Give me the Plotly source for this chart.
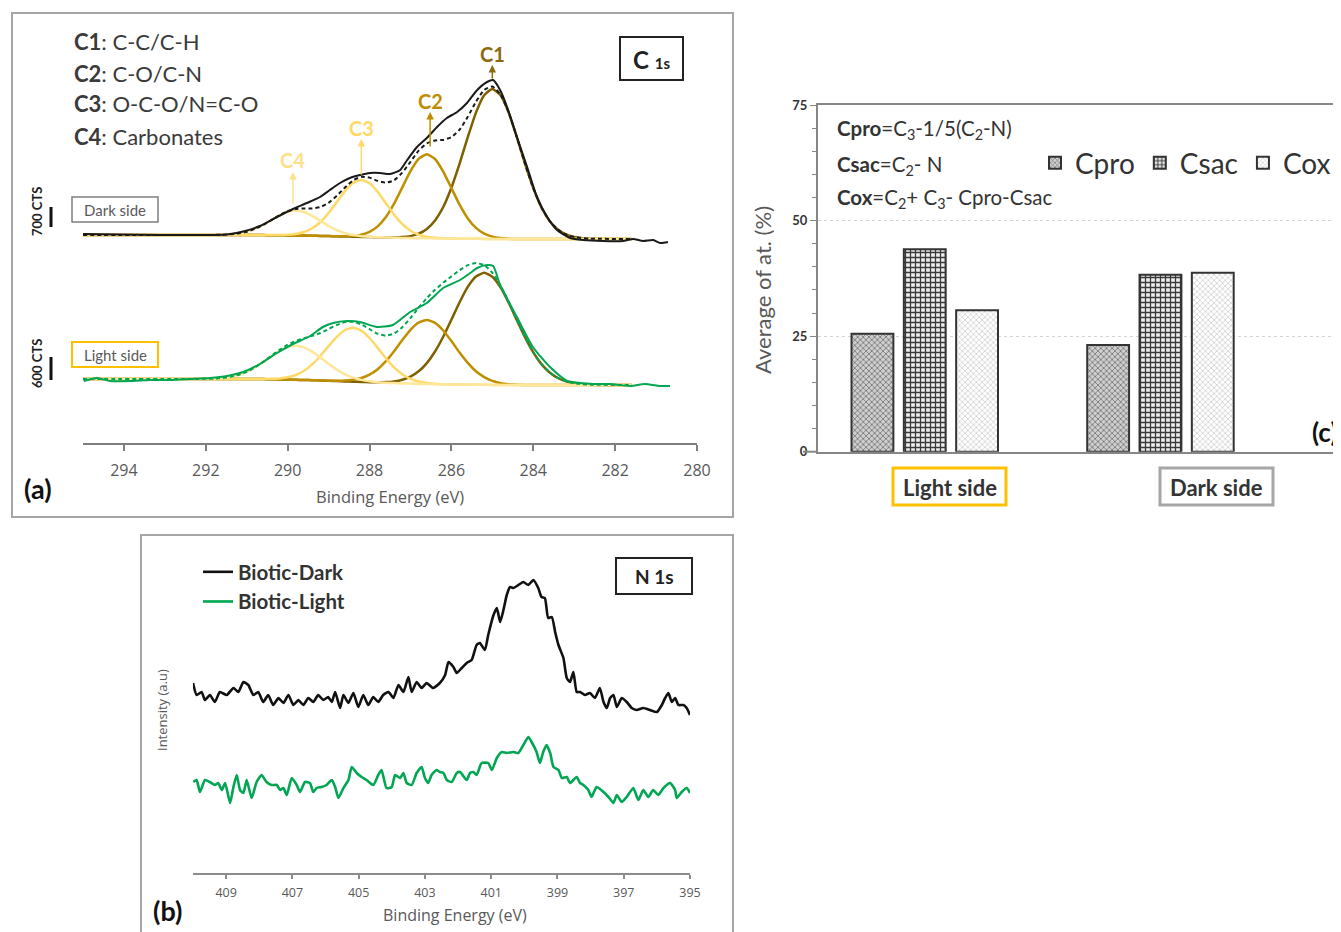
import plotly.graph_objects as go

W, H = 1341, 932
OFF = 8  # page body margin in the browser


def px(x):
    return (x - OFF) / W


def py(y):
    return 1 - (y - OFF) / H


# ======================= (a) C 1s =======================
c1s_fit_energy = [295.0,
                  292.6, 292.4, 292.2, 292.0, 291.8, 291.6, 291.4, 291.2, 291.0, 290.8,
                  290.6, 290.4, 290.2, 290.0, 289.8, 289.6, 289.4, 289.2, 289.0, 288.8,
                  288.6, 288.4, 288.2, 288.0, 287.8, 287.6, 287.4, 287.2, 287.0, 286.8,
                  286.6, 286.4, 286.2, 286.0, 285.8, 285.6, 285.4, 285.2, 285.0, 284.8,
                  284.6, 284.4, 284.2, 284.0, 283.8, 283.6, 283.4, 283.2, 283.0, 282.8, 282.6,
                  281.6]

dark_bg = [208.0,
           208.0, 208.0, 208.0, 208.0, 208.0, 208.0, 208.0, 208.0, 208.0, 208.0,
           207.9, 207.8, 207.7, 207.6, 207.5, 207.4, 207.3, 207.1, 206.9, 206.7,
           206.5, 206.3, 206.1, 205.9, 205.7, 205.5, 205.3, 205.1, 204.9, 204.8,
           204.7, 204.6, 204.5, 204.4, 204.3, 204.2, 204.2, 204.1, 204.1, 204.0,
           204.0, 204.0, 204.0, 204.0, 204.0, 204.0, 204.0, 204.0, 204.0, 204.0, 204.0,
           204.0]
dark_c1 = [0,
           0, 0, 0, 0, 0, 0, 0, 0, 0, 0,
           0, 0, 0, 0, 0, 0, 0, 0, 0, 0,
           0, 0, 0, 0, 0, 0.1, 0.3, 0.8, 2.0, 4.5,
           9.4, 18.0, 31.5, 50.9, 75.0, 101.6, 126.2, 143.7, 150.0, 143.7,
           126.2, 101.6, 75.0, 50.9, 31.5, 18.0, 9.4, 4.5, 2.0, 0.8, 0.3,
           0]
dark_c2 = [0,
           0, 0, 0, 0, 0, 0, 0, 0, 0, 0,
           0, 0, 0, 0, 0, 0, 0, 0, 0, 0.1,
           0.3, 0.9, 2.3, 5.3, 10.9, 20.4, 34.0, 50.5, 66.9, 79.4,
           84.0, 79.4, 66.9, 50.5, 34.0, 20.4, 10.9, 5.3, 2.3, 0.9,
           0.3, 0.1, 0, 0, 0, 0, 0, 0, 0, 0, 0,
           0]
dark_c3 = [0,
           0, 0, 0, 0, 0, 0, 0, 0, 0, 0,
           0, 0.1, 0.2, 0.6, 1.5, 3.6, 7.4, 13.9, 23.1, 34.3,
           45.4, 53.9, 57.0, 53.9, 45.4, 34.3, 23.1, 13.9, 7.4, 3.6,
           1.5, 0.6, 0.2, 0.1, 0, 0, 0, 0, 0, 0,
           0, 0, 0, 0, 0, 0, 0, 0, 0, 0, 0,
           0]
dark_c4 = [0,
           0, 0, 0, 0, 0.1, 0.3, 0.7, 1.6, 3.3, 6.1,
           10.1, 15.0, 19.9, 23.6, 25.0, 23.6, 19.9, 15.0, 10.1, 6.1,
           3.3, 1.6, 0.7, 0.3, 0.1, 0, 0, 0, 0, 0,
           0, 0, 0, 0, 0, 0, 0, 0, 0, 0,
           0, 0, 0, 0, 0, 0, 0, 0, 0, 0, 0,
           0]

light_bg = [64.0,
            64.0, 64.0, 64.0, 64.0, 64.0, 64.0, 64.0, 64.0, 64.0, 64.0,
            63.9, 63.8, 63.6, 63.4, 63.2, 63.0, 62.8, 62.5, 62.2, 61.9,
            61.6, 61.3, 61.0, 60.7, 60.4, 60.1, 59.8, 59.6, 59.4, 59.2,
            59.0, 58.8, 58.7, 58.6, 58.5, 58.4, 58.3, 58.2, 58.1, 58.0,
            58.0, 58.0, 58.0, 58.0, 58.0, 58.0, 58.0, 58.0, 58.0, 58.0, 58.0,
            58.0]
light_c1 = [0,
            0, 0, 0, 0, 0, 0, 0, 0, 0, 0,
            0, 0, 0, 0, 0, 0, 0, 0, 0, 0,
            0, 0, 0, 0.1, 0.3, 0.8, 1.8, 3.7, 7.0, 12.5,
            20.9, 32.7, 47.6, 64.7, 82.3, 97.7, 108.2, 112.0, 108.2, 97.7,
            82.3, 64.7, 47.6, 32.7, 20.9, 12.5, 7.0, 3.7, 1.8, 0.8, 0.3,
            0]
light_c2 = [0,
            0, 0, 0, 0, 0, 0, 0, 0, 0, 0,
            0, 0, 0, 0, 0, 0, 0, 0, 0.1, 0.3,
            0.8, 1.9, 4.0, 7.7, 13.4, 21.7, 32.0, 43.3, 53.8, 61.3,
            64.0, 61.3, 53.8, 43.3, 32.0, 21.7, 13.4, 7.7, 4.0, 1.9,
            0.8, 0.3, 0.1, 0, 0, 0, 0, 0, 0, 0, 0,
            0]
light_c3 = [0,
            0, 0, 0, 0, 0, 0, 0, 0, 0, 0,
            0.1, 0.4, 1.0, 2.3, 4.8, 9.2, 15.8, 24.5, 34.7, 44.3,
            51.4, 54.0, 51.4, 44.3, 34.7, 24.5, 15.8, 9.2, 4.8, 2.3,
            1.0, 0.4, 0.1, 0, 0, 0, 0, 0, 0, 0,
            0, 0, 0, 0, 0, 0, 0, 0, 0, 0, 0,
            0]
light_c4 = [0,
            0, 0, 0.1, 0.2, 0.4, 1.0, 2.1, 4.1, 7.1, 11.5,
            17.0, 23.0, 28.6, 32.6, 34.0, 32.6, 28.6, 23.0, 17.0, 11.5,
            7.1, 4.1, 2.1, 1.0, 0.4, 0.2, 0.1, 0, 0, 0,
            0, 0, 0, 0, 0, 0, 0, 0, 0, 0,
            0, 0, 0, 0, 0, 0, 0, 0, 0, 0, 0,
            0]

dark_data_energy = [295.0, 294.1, 293.12, 292.15, 291.48, 291.04, 290.68, 290.26, 289.87, 289.53,
                    289.21, 288.97, 288.72, 288.48, 288.23, 287.99, 287.74, 287.5, 287.25, 287.08,
                    286.84, 286.6, 286.35, 286.11, 285.86, 285.62, 285.37, 285.13, 284.98, 284.81,
                    284.64, 284.4, 284.15, 283.91, 283.66, 283.42, 283.1, 282.78, 282.3, 281.81,
                    281.56, 281.32, 281.07, 280.9, 280.71]
dark_data = [209, 208.5, 208, 208, 208.5, 212, 217, 226, 234, 240,
             246, 253, 260, 265, 268, 270, 270, 269, 273, 283,
             296, 305, 316, 325, 331, 340, 353, 361, 363, 353,
             336, 306, 276, 246, 226, 213, 205, 203, 202, 202,
             204, 202, 203, 200, 201]

light_data_energy = [294.98, 294.66, 294.34, 293.85, 293.36, 292.87, 292.39, 291.9, 291.48, 291.09,
                     290.68, 290.26, 289.87, 289.45, 289.14, 288.89, 288.55, 288.23, 287.82, 287.43,
                     287.01, 286.6, 286.2, 285.79, 285.54, 285.37, 285.13, 284.98, 284.81, 284.4,
                     284.01, 283.59, 283.17, 282.86, 282.54, 282.12, 281.63, 281.27, 280.9, 280.66]
light_data = [62, 65, 62, 62, 63, 63, 64, 65, 67, 71,
              79, 90, 99, 107, 116, 120, 122, 121, 116, 118,
              131, 140, 155, 163, 170, 175, 178, 177, 158, 126,
              96, 76, 62, 60, 59, 59, 57, 59, 57, 57]

# ======================= (b) N 1s =======================
n1s_dark_energy = [410.0, 409.89, 409.74, 409.64, 409.49, 409.34, 409.19, 408.98, 408.78, 408.63,
                   408.48, 408.33, 408.18, 408.03, 407.88, 407.73, 407.58, 407.42, 407.27, 407.12,
                   406.97, 406.82, 406.67, 406.52, 406.37, 406.22, 406.07, 405.92, 405.81, 405.71,
                   405.56, 405.46, 405.31, 405.16, 405.01, 404.86, 404.71, 404.56, 404.41, 404.26,
                   404.1, 403.95, 403.8, 403.65, 403.5, 403.4, 403.25, 403.1, 402.95, 402.75,
                   402.55, 402.39, 402.29, 402.14, 402.04, 401.89, 401.74, 401.59, 401.44, 401.34,
                   401.19, 401.09, 400.93, 400.83, 400.73, 400.63, 400.53, 400.43, 400.33, 400.18,
                   400.03, 399.88, 399.73, 399.58, 399.48, 399.38, 399.28, 399.17, 399.07, 398.97,
                   398.82, 398.72, 398.62, 398.52, 398.42, 398.32, 398.17, 398.02, 397.87, 397.72,
                   397.61, 397.51, 397.41, 397.31, 397.21, 397.06, 396.91, 396.76, 396.61, 396.41,
                   396.21, 396.0, 395.85, 395.75, 395.65, 395.55, 395.45, 395.35, 395.2, 395.1,
                   395.0]
n1s_dark = [190, 178, 181, 173, 178, 171, 181, 178, 185, 181,
            191, 188, 178, 181, 171, 178, 168, 175, 170, 178,
            168, 173, 168, 175, 171, 178, 173, 176, 171, 181,
            165, 178, 170, 180, 166, 178, 168, 176, 171, 178,
            181, 175, 188, 181, 196, 181, 191, 185, 190, 185,
            190, 198, 211, 206, 200, 205, 210, 213, 228, 230,
            223, 238, 258, 265, 251, 263, 278, 286, 285, 288,
            291, 288, 293, 285, 276, 275, 255, 256, 241, 228,
            215, 195, 191, 201, 181, 181, 178, 180, 175, 185,
            171, 165, 175, 178, 166, 175, 171, 165, 163, 165,
            163, 161, 168, 175, 180, 171, 175, 168, 168, 165,
            158]

n1s_light_energy = [409.99, 409.89, 409.79, 409.64, 409.49, 409.34, 409.24, 409.13, 409.03, 408.88,
                    408.78, 408.68, 408.58, 408.48, 408.38, 408.23, 408.08, 407.93, 407.78, 407.63,
                    407.47, 407.37, 407.27, 407.17, 407.02, 406.87, 406.77, 406.62, 406.47, 406.37,
                    406.27, 406.12, 405.97, 405.81, 405.71, 405.61, 405.46, 405.31, 405.21, 405.06,
                    404.91, 404.76, 404.56, 404.41, 404.31, 404.16, 404.0, 403.9, 403.75, 403.65,
                    403.55, 403.4, 403.25, 403.1, 403.0, 402.9, 402.8, 402.65, 402.55, 402.44,
                    402.34, 402.19, 402.04, 401.94, 401.74, 401.64, 401.54, 401.44, 401.29, 401.09,
                    400.98, 400.83, 400.68, 400.53, 400.33, 400.18, 400.03, 399.88, 399.78, 399.63,
                    399.53, 399.43, 399.33, 399.22, 399.12, 398.97, 398.87, 398.72, 398.62, 398.42,
                    398.32, 398.22, 398.07, 397.97, 397.82, 397.61, 397.46, 397.31, 397.21, 397.06,
                    396.91, 396.71, 396.56, 396.41, 396.26, 396.11, 395.96, 395.8, 395.6, 395.45,
                    395.4, 395.25, 395.1, 395.0]
n1s_light = [91, 93, 81, 93, 91, 88, 90, 83, 90, 70,
             86, 98, 83, 80, 93, 75, 91, 98, 91, 88,
             88, 83, 85, 78, 95, 88, 81, 91, 90, 81,
             85, 86, 88, 93, 86, 75, 85, 93, 106, 100,
             96, 93, 88, 98, 103, 85, 86, 98, 95, 100,
             90, 88, 100, 106, 95, 90, 98, 103, 101, 100,
             93, 91, 100, 101, 93, 100, 101, 98, 110, 110,
             103, 115, 121, 120, 121, 120, 128, 136, 131, 121,
             110, 121, 128, 120, 106, 103, 95, 96, 90, 96,
             90, 88, 83, 76, 86, 81, 76, 70, 78, 71,
             76, 85, 73, 83, 76, 83, 78, 85, 90, 83,
             75, 81, 85, 80]

# ======================= (c) bars =======================
groups = ["Light side", "Dark side"]
cpro = [25.5, 23.1]
csac = [43.8, 38.3]
cox = [30.6, 38.7]
bar_names = ["Cpro", "Csac", "Cox"]

# ======================= figure =======================
fig = go.Figure()

comp_colors = ["#7f6000", "#bf8f00", "#ffd966", "#ffe699"]
panels = [
    (dark_bg, [dark_c1, dark_c2, dark_c3, dark_c4], dark_data_energy, dark_data, "#1a1a1a"),
    (light_bg, [light_c1, light_c2, light_c3, light_c4], light_data_energy, light_data, "#00a651"),
]
for bg, comps, dx, dy, dcol in panels:
    for comp, col in zip(comps, comp_colors):
        fig.add_trace(go.Scatter(
            x=c1s_fit_energy, y=[b + c for b, c in zip(bg, comp)], mode="lines",
            line=dict(color=col, width=2.5, shape="spline", smoothing=0.5),
            showlegend=False, hoverinfo="skip", xaxis="x", yaxis="y"))
    fig.add_trace(go.Scatter(
        x=dx, y=dy, mode="lines",
        line=dict(color=dcol, width=2, shape="spline", smoothing=0.6),
        showlegend=False, hoverinfo="skip", xaxis="x", yaxis="y"))
    envelope = [b + c1 + c2 + c3 + c4 for b, c1, c2, c3, c4 in zip(bg, *comps)]
    fig.add_trace(go.Scatter(
        x=c1s_fit_energy, y=envelope, mode="lines",
        line=dict(color=dcol, width=2, dash="4px,3px", shape="spline", smoothing=0.5),
        showlegend=False, hoverinfo="skip", xaxis="x", yaxis="y"))

# N 1s
fig.add_trace(go.Scatter(x=n1s_dark_energy, y=n1s_dark, mode="lines", name="Biotic-Dark",
                         line=dict(color="#111111", width=2.6, shape="spline", smoothing=0.5),
                         xaxis="x2", yaxis="y2", legend="legend2", legendgroup="d"))
fig.add_trace(go.Scatter(x=n1s_light_energy, y=n1s_light, mode="lines", name="Biotic-Light",
                         line=dict(color="#00a651", width=2.6, shape="spline", smoothing=0.5),
                         xaxis="x2", yaxis="y2", legend="legend2", legendgroup="l"))

# bars
patterns = [
    dict(shape="x", fgcolor="#6e6e6e", bgcolor="#cfcfcf", size=4, solidity=0.35, fillmode="replace"),
    dict(shape="+", fgcolor="#3a3a3a", bgcolor="#eeeeee", size=5, solidity=0.45, fillmode="replace"),
    dict(shape="x", fgcolor="#c4c4c4", bgcolor="#ffffff", size=4, solidity=0.3, fillmode="replace"),
]
for name, vals, pat in zip(bar_names, [cpro, csac, cox], patterns):
    fig.add_trace(go.Bar(x=groups, y=vals, name=name, marker=dict(pattern=pat, line=dict(color="#333333", width=2)),
                         xaxis="x3", yaxis="y3", legend="legend"))

# ---------------- annotations & shapes ----------------
ann = []
shapes = []


def note(text, x, y, size, color="#333333", family="Lato", xref="paper", yref="paper",
         xanchor="center", yanchor="middle", **kw):
    d = dict(text=text, x=x, y=y, xref=xref, yref=yref, xanchor=xanchor, yanchor=yanchor,
             showarrow=False, font=dict(size=size, color=color, family=family))
    d.update(kw)
    ann.append(d)


def box(x0, y0, x1, y1, color, width):
    shapes.append(dict(type="rect", xref="paper", yref="paper", x0=px(x0), x1=px(x1), y0=py(y1), y1=py(y0),
                       line=dict(color=color, width=width)))


# panel (a)
label_lines = ["<b>C1</b>: C-C/C-H", "<b>C2</b>: C-O/C-N", "<b>C3</b>: O-C-O/N=C-O", "<b>C4</b>: Carbonates"]
for t, yy in zip(label_lines, [42, 73, 104, 137]):
    note(t, px(72), py(yy), 22, "#3a3a3a", xanchor="left")

peak_names = ["C1", "C2", "C3", "C4"]
peak_text_colors = ["#8d6a10", "#c08c00", "#ffd966", "#ffe08a"]
arrow_x = [285.0, 286.52, 288.2, 289.87]
arrow_tail = [363, 295, 267, 238]
arrow_head = [378, 331, 304, 271]
label_y = [389, 342, 315, 283]
for n, col, ax_, t0, h0, ly in zip(peak_names, peak_text_colors, arrow_x, arrow_tail, arrow_head, label_y):
    ann.append(dict(text="", x=ax_, y=h0, ax=ax_, ay=t0, xref="x", yref="y", axref="x", ayref="y",
                    showarrow=True, arrowhead=2, arrowsize=1, arrowwidth=1.5, arrowcolor=col))
    note("<b>" + n + "</b>", ax_, ly, 20, col, xref="x", yref="y")

box(620, 37, 683, 80, "#222222", 2)
note("<b>C <span style='font-size:15px'>1s</span></b>", px(651.5), py(59), 24, "#222222")

box(72, 197, 158, 222, "#7f7f7f", 1.5)
note("Dark side", px(115), py(210), 15, "#595959")
box(72, 342, 158, 367, "#ffc000", 2)
note("Light side", px(115), py(355), 15, "#595959")

note("<b>700 CTS</b>", px(37), py(212), 13, "#222222", textangle=-90)
shapes.append(dict(type="line", xref="paper", yref="paper", x0=px(51), x1=px(51), y0=py(227), y1=py(207),
                   line=dict(color="#111111", width=3)))
note("<b>600 CTS</b>", px(37), py(364), 13, "#222222", textangle=-90)
shapes.append(dict(type="line", xref="paper", yref="paper", x0=px(51), x1=px(51), y0=py(380), y1=py(357),
                   line=dict(color="#111111", width=3)))

note("<b>(a)</b>", px(38), py(488), 27, "#111111")
note("Binding Energy (eV)", px(390), py(496), 16.5, "#595959", family="Open Sans")
box(12, 13, 733, 517, "#a6a6a6", 2)

# panel (b)
box(141, 535, 733, 945, "#a6a6a6", 2)
box(616, 558, 692, 594, "#222222", 2)
note("<b>N 1s</b>", px(654), py(576), 19, "#222222")
note("Intensity (a.u)", px(162), py(710), 13, "#595959", family="Open Sans", textangle=-90)
note("<b>(b)</b>", px(167), py(910), 27, "#111111")
note("Binding Energy (eV)", px(455), py(915), 16, "#595959", family="Open Sans")

# panel (c)
formulas = ["<b>Cpro</b>=C<sub>3</sub>-1/5(C<sub>2</sub>-N)",
            "<b>Csac</b>=C<sub>2</sub>- N",
            "<b>Cox</b>=C<sub>2</sub>+ C<sub>3</sub>- Cpro-Csac"]
for t, yy in zip(formulas, [130, 165, 199]):
    note(t, px(835), py(yy), 20.5, "#333333", xanchor="left")
note("Average of at. (%)", px(762), py(290), 22, "#595959", textangle=-90)
group_box_colors = ["#ffc000", "#a6a6a6"]
group_box_x = [(893, 1006), (1160, 1273)]
for g, col, (x0, x1) in zip(groups, group_box_colors, group_box_x):
    box(x0, 468, x1, 505, col, 3)
    note("<b>" + g + "</b>", px((x0 + x1) / 2), py(487), 22, "#333333")
note("<b>(c)</b>", px(1325), py(432), 26, "#111111")
shapes.append(dict(type="line", xref="paper", yref="paper", x0=px(803), x1=px(818), y0=py(451.7), y1=py(451.7),
                   line=dict(color="#868686", width=2)))

fig.update_layout(
    width=W, height=H, autosize=False,
    margin=dict(l=0, r=0, t=0, b=0, pad=0, autoexpand=False),
    paper_bgcolor="white", plot_bgcolor="white",
    font=dict(family="Lato", color="#333333"),
    barmode="group", bargap=0.334, bargroupgap=0.2,
    xaxis=dict(domain=[px(83), px(697)], range=[295, 280], anchor="y", automargin=False,
               showline=True, linecolor="#7f7f7f", linewidth=2, ticks="outside", ticklen=6, tickwidth=2,
               tickcolor="#7f7f7f", tick0=280, dtick=2, ticklabelstandoff=6,
               tickfont=dict(size=16, color="#595959", family="Open Sans"), showgrid=False, zeroline=False),
    yaxis=dict(domain=[py(443), py(20)], range=[0, 423], anchor="x", visible=False),
    xaxis2=dict(domain=[px(193), px(690)], range=[410, 395], anchor="y2", automargin=False,
                showline=True, linecolor="#8c8c8c", linewidth=1.5, ticks="outside", ticklen=4, tickwidth=1.5,
                tickcolor="#8c8c8c", tick0=395, dtick=2, ticklabelstandoff=3,
                tickfont=dict(size=12.5, color="#595959", family="Open Sans"), showgrid=False, zeroline=False),
    yaxis2=dict(domain=[py(873), py(545)], range=[0, 328], anchor="x2", visible=False),
    xaxis3=dict(domain=[px(818), 1.0], range=[-0.453, 1.80], anchor="y3", type="category", automargin=False,
                showline=True, linecolor="#868686", linewidth=2, mirror=True,
                showticklabels=False, ticks="", showgrid=False, zeroline=False),
    yaxis3=dict(domain=[py(451.7), py(105)], range=[0, 75], anchor="x3", dtick=25, automargin=False,
                showline=True, linecolor="#868686", linewidth=2, ticks="outside", ticklen=6,
                tickcolor="#868686", tickfont=dict(size=13, color="#333333", family="Lato", weight="bold"),
                showgrid=True, gridcolor="#d4d4d4", griddash="dot", zeroline=False,
                minor=dict(dtick=5, ticks="outside", ticklen=4, tickcolor="#868686", showgrid=False)),
    legend=dict(orientation="h", x=px(1336), xanchor="right", y=py(138), yanchor="top",
                font=dict(size=28, color="#333333", family="Lato"), itemwidth=30,
                bgcolor="rgba(0,0,0,0)", traceorder="normal"),
    legend2=dict(x=px(198), y=py(552), xanchor="left", yanchor="top",
                 font=dict(size=20.5, color="#333333", family="Lato", weight="bold"), itemwidth=30,
                 bgcolor="rgba(0,0,0,0)", tracegroupgap=4, traceorder="normal"),
    annotations=ann,
    shapes=shapes,
)

fig.write_html("out.html")
